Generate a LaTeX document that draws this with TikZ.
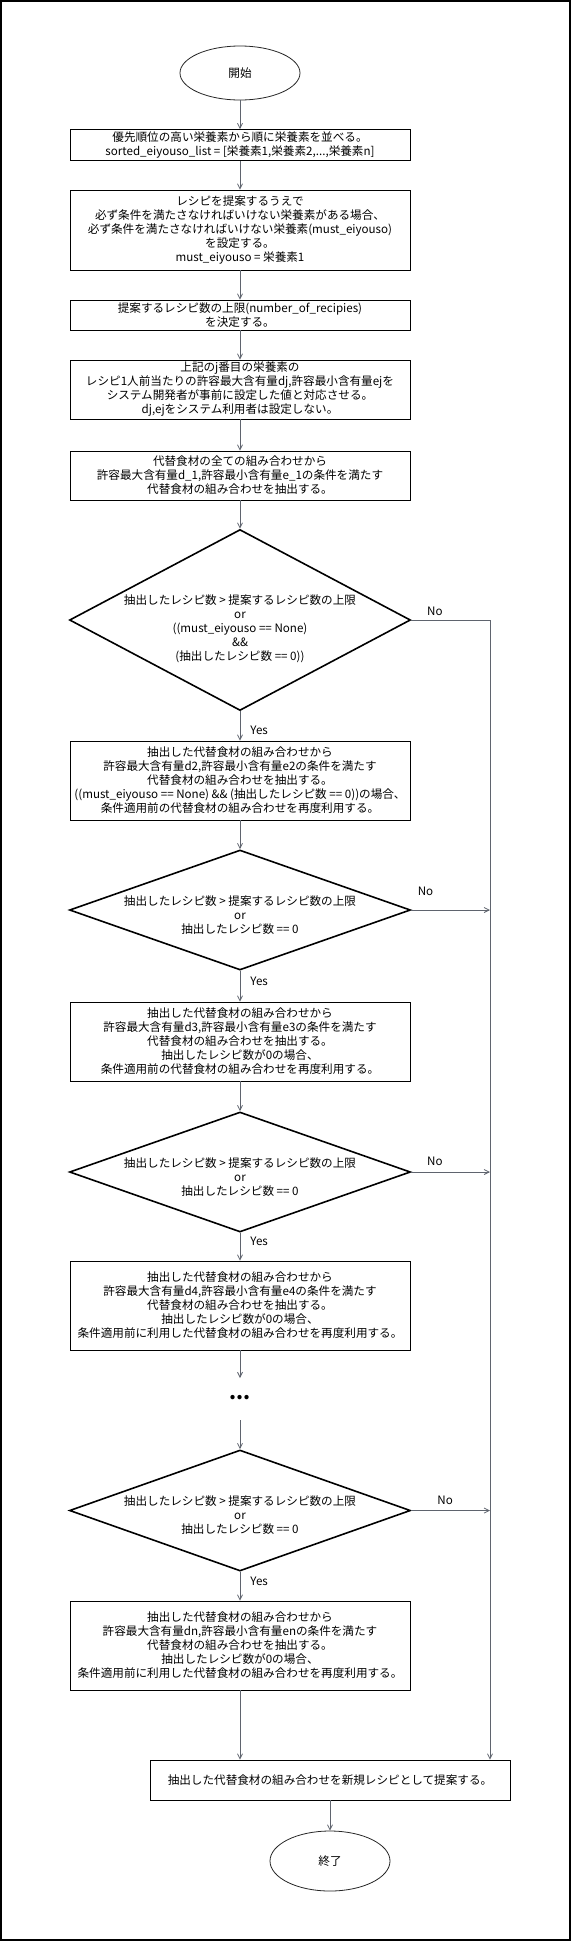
\documentclass[tikz,border=0pt]{standalone}
\usepackage{fontspec}
\setmainfont{Noto Sans CJK JP}
\usepackage{xcolor}
\usetikzlibrary{shapes.geometric,arrows.meta}
\definecolor{linegray}{RGB}{95,100,110}
\begin{document}
\begin{tikzpicture}[x=1pt, y=-1pt,
    font=\fontsize{11.6}{14}\selectfont,
    procbox/.style={draw=black, line width=0.8pt, minimum width=340pt, align=center, inner sep=0pt},
    decision/.style={draw=black, diamond, line width=1.6pt, minimum width=341pt, inner sep=0pt},
    terminal/.style={draw=black!85, ellipse, line width=0.8pt, minimum width=120pt},
    flowline/.style={draw=linegray, line width=0.8pt, -{Straight Barb[length=5pt,width=5pt]}},
    lbl/.style={inner sep=1pt}]
  \useasboundingbox (0,0) rectangle (571,1941);
  \draw[line width=2pt] (1,1) rectangle (570,1940);

  \node[terminal, minimum height=54pt] (start) at (240,73) {開始};
  \node[procbox, minimum height=31pt] (b1) at (240,145) {%
    優先順位の高い栄養素から順に栄養素を並べる。\\
    sorted\_eiyouso\_list = [栄養素1,栄養素2,...,栄養素n]};
  \node[procbox, minimum height=80pt] (b2) at (240,230) {%
    レシピを提案するうえで\\
    必ず条件を満たさなければいけない栄養素がある場合、\\
    必ず条件を満たさなければいけない栄養素(must\_eiyouso)\\
    を設定する。\\
    must\_eiyouso = 栄養素1};
  \node[procbox, minimum height=30pt] (b3) at (240,315) {%
    提案するレシピ数の上限(number\_of\_recipies)\\
    を決定する。};
  \node[procbox, minimum height=59pt] (b4) at (240,389.5) {%
    上記のj番目の栄養素の\\
    レシピ1人前当たりの許容最大含有量dj,許容最小含有量ejを\\
    システム開発者が事前に設定した値と対応させる。\\
    dj,ejをシステム利用者は設定しない。};
  \node[procbox, minimum height=49pt] (b5) at (240,475.5) {%
    代替食材の全ての組み合わせから\\
    許容最大含有量d\_1,許容最小含有量e\_1の条件を満たす\\
    代替食材の組み合わせを抽出する。};
  \node[decision, minimum height=181pt,
    label={[lbl, align=center, yshift=-9pt]center:抽出したレシピ数 > 提案するレシピ数の上限\\
      or\\ ((must\_eiyouso == None)\\ \&\&\\ (抽出したレシピ数 == 0))}] (d1) at (240,620) {};
  \node[procbox, minimum height=79pt] (b6) at (240,780.5) {%
    抽出した代替食材の組み合わせから\\
    許容最大含有量d2,許容最小含有量e2の条件を満たす\\
    代替食材の組み合わせを抽出する。\\
    ((must\_eiyouso == None) \&\& (抽出したレシピ数 == 0))の場合、\\
    条件適用前の代替食材の組み合わせを再度利用する。};
  \node[decision, minimum height=120pt,
    label={[lbl, align=center, yshift=-5pt]center:抽出したレシピ数 > 提案するレシピ数の上限\\
      or\\ 抽出したレシピ数 == 0}] (d2) at (240,910) {};
  \node[procbox, minimum height=79pt] (b7) at (240,1041.5) {%
    抽出した代替食材の組み合わせから\\
    許容最大含有量d3,許容最小含有量e3の条件を満たす\\
    代替食材の組み合わせを抽出する。\\
    抽出したレシピ数が0の場合、\\
    条件適用前の代替食材の組み合わせを再度利用する。};
  \node[decision, minimum height=120pt,
    label={[lbl, align=center, yshift=-5pt]center:抽出したレシピ数 > 提案するレシピ数の上限\\
      or\\ 抽出したレシピ数 == 0}] (d3) at (240,1172) {};
  \node[procbox, minimum height=89pt] (b8) at (240,1305.5) {%
    抽出した代替食材の組み合わせから\\
    許容最大含有量d4,許容最小含有量e4の条件を満たす\\
    代替食材の組み合わせを抽出する。\\
    抽出したレシピ数が0の場合、\\
    条件適用前に利用した代替食材の組み合わせを再度利用する。};
  \coordinate (dotsin) at (240,1378);
  \node[font=\fontsize{20}{20}\selectfont\bfseries] (dots) at (240,1398) {...};
  \coordinate (dotsout) at (240,1420);
  \node[decision, minimum height=121pt,
    label={[lbl, align=center, yshift=-5pt]center:抽出したレシピ数 > 提案するレシピ数の上限\\
      or\\ 抽出したレシピ数 == 0}] (d4) at (240,1510.5) {};
  \node[procbox, minimum height=89pt] (b9) at (240,1645.5) {%
    抽出した代替食材の組み合わせから\\
    許容最大含有量dn,許容最小含有量enの条件を満たす\\
    代替食材の組み合わせを抽出する。\\
    抽出したレシピ数が0の場合、\\
    条件適用前に利用した代替食材の組み合わせを再度利用する。};
  \node[procbox, minimum width=360pt, minimum height=40pt] (fin) at (330,1780) {%
    抽出した代替食材の組み合わせを新規レシピとして提案する。};
  \node[terminal, minimum height=60pt] (end) at (330,1861) {終了};
  \coordinate (rail) at (490,620);

  % main flow
  \draw[flowline] (start.south) -- (b1.north);
  \draw[flowline] (b1) -- (b2);
  \draw[flowline] (b2) -- (b3);
  \draw[flowline] (b3) -- (b4);
  \draw[flowline] (b4) -- (b5);
  \draw[flowline] (b5) -- (d1.north);
  \draw[flowline] (d1.south) -- node[lbl, pos=0.66, anchor=west, xshift=9pt] {Yes} (b6.north);
  \draw[flowline] (b6) -- (d2.north);
  \draw[flowline] (d2.south) -- node[lbl, pos=0.35, anchor=west, xshift=9pt] {Yes} (b7.north);
  \draw[flowline] (b7) -- (d3.north);
  \draw[flowline] (d3.south) -- node[lbl, pos=0.3, anchor=west, xshift=9pt] {Yes} (b8.north);
  \draw[flowline] (b8.south) -- (dotsin);
  \draw[flowline] (dotsout) -- (d4.north);
  \draw[flowline] (d4.south) -- node[lbl, pos=0.33, anchor=west, xshift=9pt] {Yes} (b9.north);
  \draw[flowline] (b9.south) -- (b9.south |- fin.north);
  \draw[flowline] (fin) -- (end);

  % No branches
  \draw[flowline] (d1.east) -- node[lbl, pos=0.3, yshift=9pt] {No} (rail) -- (rail |- fin.north);
  \draw[flowline] (d2.east) -- node[lbl, pos=0.18, yshift=19pt] {No} (d2.east -| rail);
  \draw[flowline] (d3.east) -- node[lbl, pos=0.3, yshift=11pt] {No} (d3.east -| rail);
  \draw[flowline] (d4.east) -- node[lbl, pos=0.43, yshift=10pt] {No} (d4.east -| rail);
\end{tikzpicture}
\end{document}
